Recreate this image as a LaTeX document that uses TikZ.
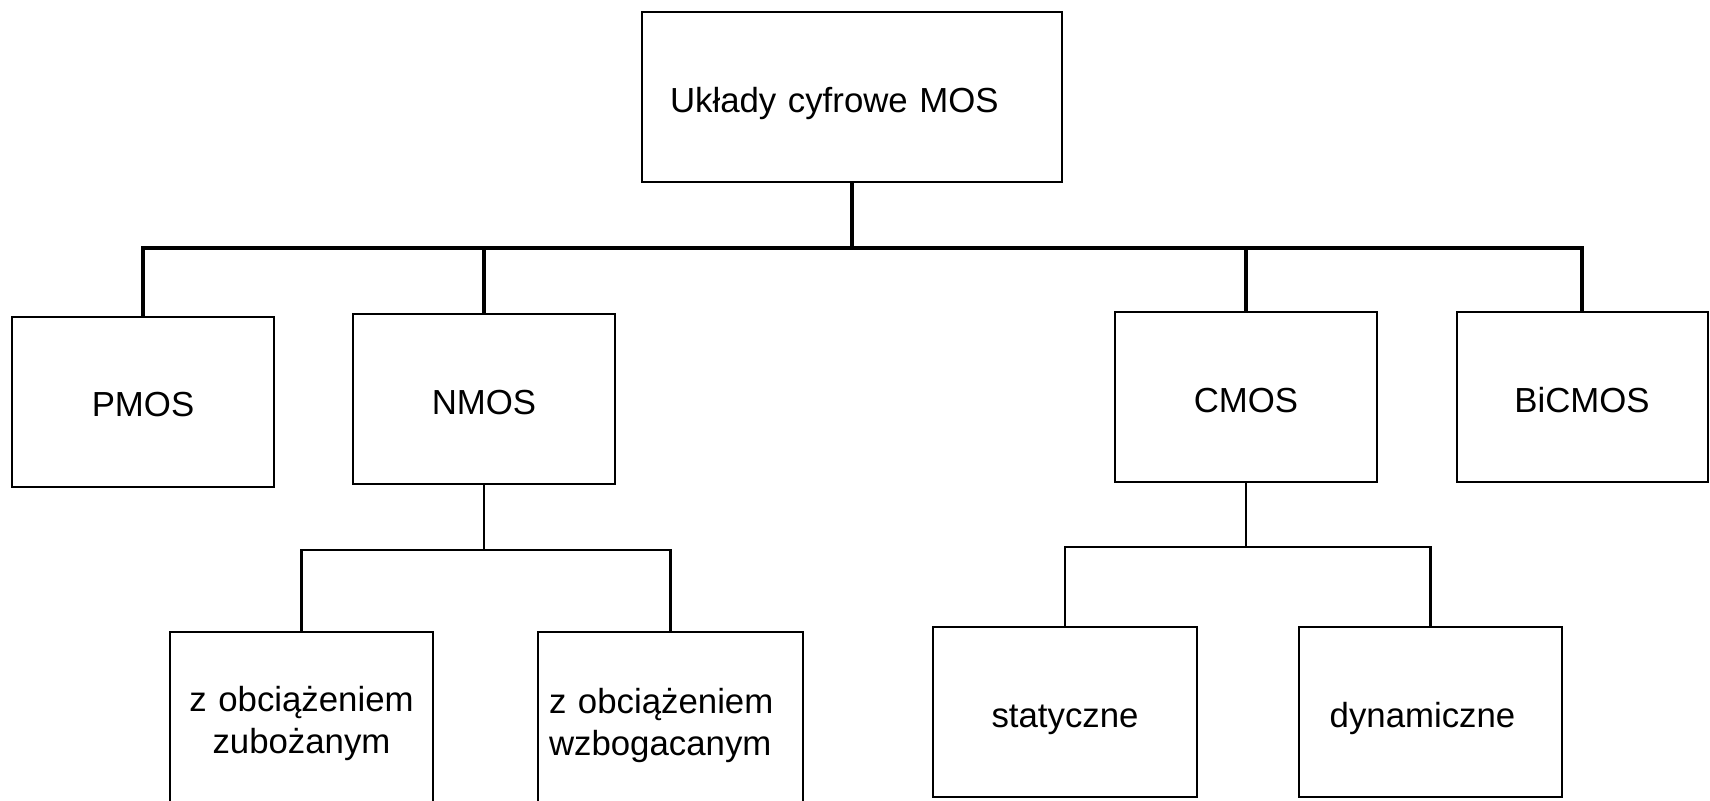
\documentclass[tikz,border=0pt]{standalone}
\usepackage{fontspec}
\setmainfont{Liberation Sans}
\tikzset{
  box/.style={draw, line width=1pt, inner sep=0pt, minimum height=85pt,
    font=\fontsize{17.4}{21}\selectfont, align=center},
  oneline/.style={text height=19pt, text depth=4pt},
  twoline/.style={text height=13pt, text depth=19pt},
  bus/.style={line width=2pt},
  subbus/.style={line width=1.4pt},
}

\begin{document}
\begin{tikzpicture}[x=0.5pt,y=-0.5pt]
\useasboundingbox[fill=white] (0,0) rectangle (1710,800);

% ============ root ============
\node[box, oneline, minimum width=210pt, text width=182pt, align=left] (mos) at (852,97) {Układy cyfrowe MOS};

% ============ second row ============
\node[box, oneline, minimum width=131pt] (pmos)     at (143,401.5) {PMOS};
\node[box, oneline, minimum width=131pt] (nmos)     at (484,399)   {NMOS};
\node[box, oneline, minimum width=131pt] (cmos)     at (1246,397)  {CMOS};
\node[box, oneline, minimum width=125.5pt] (bicmos) at (1582,397)  {BiCMOS};

% ============ third row ============
\node[box, twoline, minimum width=131.5pt, text width=121.5pt] (zub) at (301.5,717) {z obciążeniem\hspace*{8pt}\\zubożanym\hspace*{8pt}};
\node[box, twoline, text height=15pt, minimum width=132.5pt, text width=121.5pt, align=left] (wzb) at (670.5,717) {z obciążeniem\\wzbogacanym};
\node[box, oneline, minimum width=132pt]   (stat) at (1065,712)  {statyczne};
\node[box, oneline, minimum width=131.5pt] (dyn)  at (1430.5,712) {dynamiczne\hspace*{8pt}};

% ============ connectors ============
\coordinate (bus) at (852,248);
\coordinate (nsplit) at (484,550);
\coordinate (csplit) at (1246,547);

\draw[bus] (mos.south) -- (bus);
\draw[bus] (pmos.north) |- (bus) -| (bicmos.north);
\draw[bus] (nmos.north) -- (nmos.north |- bus);
\draw[bus] (cmos.north) -- (cmos.north |- bus);

\draw[subbus] (nmos.south) -- (nsplit);
\draw[subbus] (zub.north) |- (nsplit) -| (wzb.north);
\draw[subbus] (cmos.south) -- (csplit);
\draw[subbus] (stat.north) |- (csplit) -| (dyn.north);

\end{tikzpicture}
\end{document}
